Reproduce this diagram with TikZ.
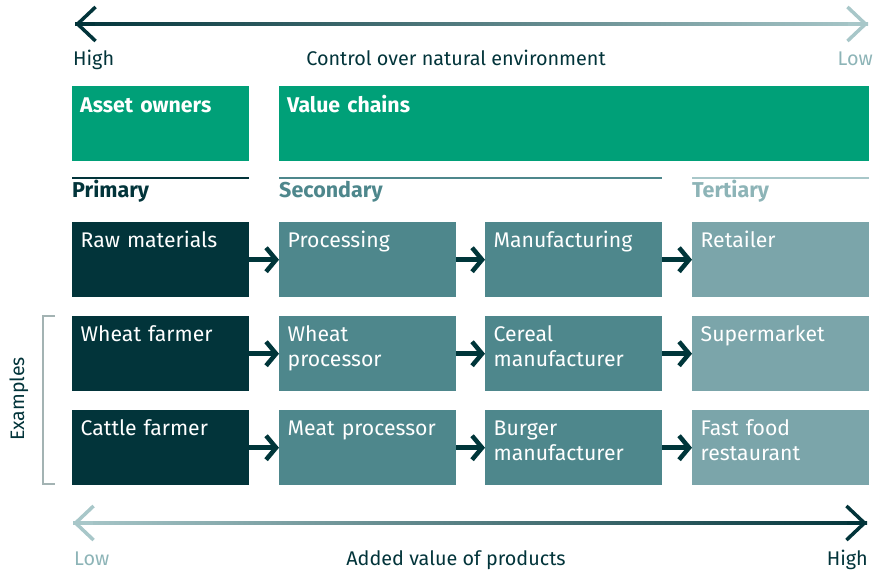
\documentclass[tikz,border=0pt]{standalone}
\usepackage{fontspec}
\setmainfont{Fira Sans}
\usetikzlibrary{arrows.meta}
\definecolor{grn}{HTML}{00A078}
\definecolor{darkc}{HTML}{02343A}
\definecolor{midc}{HTML}{4E878C}
\definecolor{lightc}{HTML}{7BA5AA}
\definecolor{palec}{HTML}{A8C7C9}
\definecolor{tercol}{HTML}{8DB4B7}
\definecolor{brackc}{HTML}{A3B3B3}
\definecolor{arrc}{HTML}{00363A}

\begin{document}
\begin{tikzpicture}[x=1pt,y=-1pt,every node/.style={font=\fontsize{19.8}{24}\selectfont},
  cell/.style={anchor=north west,inner xsep=8.5pt,inner ysep=8pt,text width=160pt,align=left,text height=17.5pt,text depth=41.5pt,text=white,font=\fontsize{21.2}{24.8}\selectfont},
  prim/.style={cell,fill=darkc}, sec/.style={cell,fill=midc}, ter/.style={cell,fill=lightc},
  hdr/.style={anchor=north west,fill=grn,text=white,font=\fontsize{21.3}{25}\selectfont\bfseries,inner xsep=8pt,inner ysep=8pt,align=left,text height=18pt,text depth=41pt},
  tier/.style={anchor=base west,inner sep=0pt,font=\fontsize{21.5}{25}\selectfont\bfseries},
  axis/.style={inner sep=0pt},
  flow/.style={draw=arrc,line width=4.5pt,-{Straight Barb[length=10pt,width=24pt,line join=miter,line cap=butt]}},
  head/.style={line width=3.5pt,{Straight Barb[length=18pt,width=34pt,line join=miter,line cap=butt]}-}]
\useasboundingbox (0,0) rectangle (886,571);

\coordinate (ctrlL) at (75,24); \coordinate (ctrlR) at (868,24);
\shade[left color=darkc,right color=palec] ([yshift=1.6pt]ctrlL) rectangle ([yshift=-1.6pt]ctrlR);
\draw[head,darkc] (ctrlL) -- ++(20,0); \draw[head,palec] (ctrlR) -- ++(-20,0);
\node[axis,anchor=base west,text=darkc] (ctrlhigh) at (73,65) {High};
\node[axis,anchor=base,text=darkc] (ctrltxt) at (456,65) {Control over natural environment};
\node[axis,anchor=base east,text=tercol] (ctrllow) at (873,65) {Low};

\node[hdr,text width=161pt] (owners) at (72,86) {Asset owners};
\node[hdr,text width=574pt] (chains) at (279,86) {Value chains};

\draw[darkc,line width=1.5pt] (72,178) -- (249,178); \node[tier,text=darkc] (primary) at (72,197) {Primary};
\draw[midc,line width=1.5pt] (279,178) -- (662,178); \node[tier,text=midc] (secondary) at (279,197) {Secondary};
\draw[palec,line width=1.5pt] (692,178) -- (869,178); \node[tier,text=tercol] (tertiary) at (692,197) {Tertiary};

\node[prim] (raw) at (72,222) {Raw materials}; \node[sec] (proc) at (279,222) {Processing};
\node[sec] (manu) at (485,222) {Manufacturing}; \node[ter] (retail) at (692,222) {Retailer};
\node[prim] (wheat) at (72,316) {Wheat farmer}; \node[sec] (wproc) at (279,316) {Wheat\\processor};
\node[sec] (cereal) at (485,316) {Cereal\\manufacturer}; \node[ter] (superm) at (692,316) {Supermarket};
\node[prim] (cattle) at (72,410) {Cattle farmer}; \node[sec] (meat) at (279,410) {Meat processor};
\node[sec] (burger) at (485,410) {Burger\\manufacturer}; \node[ter] (fastfood) at (692,410) {Fast food\\restaurant};

\draw[flow] (raw.east) -- (proc.west); \draw[flow] (proc.east) -- (manu.west); \draw[flow] (manu.east) -- (retail.west);
\draw[flow] (wheat.east) -- (wproc.west); \draw[flow] (wproc.east) -- (cereal.west); \draw[flow] (cereal.east) -- (superm.west);
\draw[flow] (cattle.east) -- (meat.west); \draw[flow] (meat.east) -- (burger.west); \draw[flow] (burger.east) -- (fastfood.west);

\draw[brackc,line width=1.4pt] (55,316) -- (43,316) -- (43,484) -- (55,484);
\node[rotate=90,text=darkc,font=\fontsize{19.5}{24}\selectfont] (examples) at (19,399) {Examples};

\coordinate (valL) at (73,523); \coordinate (valR) at (867,523);
\shade[left color=palec,right color=darkc] ([yshift=1.6pt]valL) rectangle ([yshift=-1.6pt]valR);
\draw[head,palec] (valL) -- ++(20,0); \draw[head,darkc] (valR) -- ++(-20,0);
\node[axis,anchor=base west,text=tercol] (vallow) at (74,565) {Low};
\node[axis,anchor=base,text=darkc] (valtxt) at (456,565) {Added value of products};
\node[axis,anchor=base east,text=darkc] (valhigh) at (868,565) {High};
\end{tikzpicture}
\end{document}
